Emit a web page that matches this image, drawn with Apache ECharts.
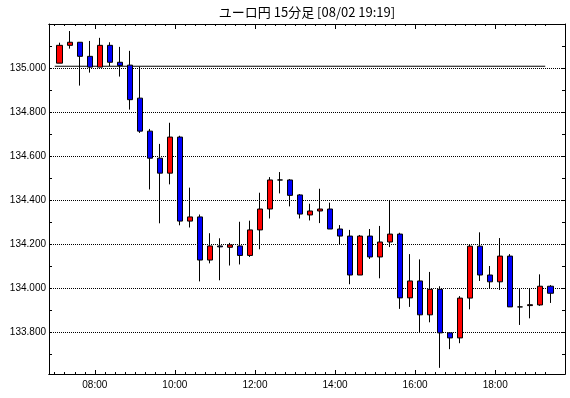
<!DOCTYPE html>
<html><head><meta charset="utf-8">
<script src="https://cdn.jsdelivr.net/npm/echarts@6/dist/echarts.min.js"></script>
<style>html,body{margin:0;padding:0;background:#fff}#c{width:570px;height:398px}</style>
</head><body><div id="c"></div>
<script>
const chartTitle = 'ユーロ円 15分足 [08/02 19:19]';
const times = ['07:00','07:15','07:30','07:45','08:00','08:15','08:30','08:45','09:00','09:15','09:30','09:45',
  '10:00','10:15','10:30','10:45','11:00','11:15','11:30','11:45','12:00','12:15','12:30','12:45',
  '13:00','13:15','13:30','13:45','14:00','14:15','14:30','14:45','15:00','15:15','15:30','15:45',
  '16:00','16:15','16:30','16:45','17:00','17:15','17:30','17:45','18:00','18:15','18:30','18:45','19:00','19:15'];
const opens = [135.023,135.104,135.118,135.054,135.005,135.104,135.027,135.014,134.864,134.714,134.591,134.523,
  134.687,134.305,134.324,134.128,134.192,134.186,134.192,134.149,134.265,134.360,134.492,134.492,
  134.424,134.333,134.351,134.360,134.269,134.237,134.060,134.237,134.142,134.210,134.246,133.956,
  134.033,133.879,133.995,133.797,133.774,133.955,134.191,134.060,134.029,134.146,133.915,133.921,133.924,134.009];
const closes = [135.104,135.118,135.054,135.005,135.104,135.027,135.012,134.857,134.714,134.591,134.523,134.687,
  134.305,134.324,134.128,134.192,134.188,134.197,134.149,134.265,134.360,134.492,134.492,134.422,
  134.337,134.351,134.360,134.269,134.237,134.060,134.237,134.142,134.210,134.246,133.956,134.033,
  133.879,133.995,133.797,133.774,133.955,134.191,134.060,134.029,134.146,133.915,133.915,133.925,134.009,133.977];
const lows = [135.023,135.089,134.921,134.980,135.005,135.010,134.962,134.812,134.706,134.449,134.295,134.472,
  134.286,134.276,134.031,134.113,134.036,134.103,134.108,134.142,134.177,134.317,134.431,134.372,
  134.317,134.308,134.296,134.269,134.200,134.018,134.060,134.133,134.045,134.187,133.906,133.915,
  133.797,133.845,133.638,133.723,133.750,133.904,134.033,134.000,133.992,133.915,133.833,133.863,133.920,133.933];
const highs = [135.116,135.169,135.118,135.124,135.138,135.118,135.097,135.079,135.007,134.724,134.656,134.752,
  134.693,134.457,134.335,134.250,134.227,134.206,134.302,134.307,134.434,134.505,134.528,134.496,
  134.428,134.384,134.452,134.389,134.287,134.265,134.242,134.269,134.283,134.401,134.252,134.155,
  134.131,134.074,134.009,133.797,133.964,134.200,134.254,134.101,134.228,134.155,134.000,134.000,134.063,134.014];
const refLevel = 135.009;
const refSpan = ['07:00', '19:15'];
const xLabelTimes = ['08:00','10:00','12:00','14:00','16:00','18:00'];
const xMinorTimes = times;
const yLabelValues = [133.8, 134.0, 134.2, 134.4, 134.6, 134.8, 135.0];
const yTickValues = [133.7, 133.8, 133.9, 134.0, 134.1, 134.2, 134.3, 134.4, 134.5, 134.6, 134.7, 134.8, 134.9, 135.0, 135.1, 135.2];

const toMin = t => { const p = t.split(':'); return (+p[0]) * 60 + (+p[1]); };
const fmtTime = v => { const h = Math.floor(v / 60), m = Math.round(v % 60); return (h < 10 ? '0' : '') + h + ':' + (m < 10 ? '0' : '') + m; };
const halfSlot = 7.5;
const X_MIN = 411.4, X_MAX = 1184.6, Y_MIN = 133.61, Y_MAX = 135.201;
const font = 'Liberation Sans, Arial, sans-serif';

const candles = times.map((t, i) => [toMin(t) + halfSlot, opens[i], closes[i], lows[i], highs[i]]);
const majorX = xLabelTimes.map(toMin);
const minorX = xMinorTimes.map(toMin);

function xAxisDef(pos, len, values, labels) {
  return {
    type: 'value', position: pos, min: X_MIN, max: X_MAX,
    axisLine: { show: true, onZero: false, lineStyle: { color: '#000', width: 1 } },
    axisTick: { show: true, inside: true, length: len, customValues: values, lineStyle: { color: '#000', width: 1 } },
    axisLabel: labels ? { show: true, customValues: values, formatter: fmtTime, color: '#000', fontSize: 10, fontFamily: font, margin: 6 } : { show: false },
    splitLine: { show: false }
  };
}
function yAxisDef(pos, show, labels) {
  return {
    type: 'value', position: pos, min: Y_MIN, max: Y_MAX,
    axisLine: { show: show, onZero: false, lineStyle: { color: '#000', width: 1 } },
    axisTick: { show: show, inside: true, length: 3, customValues: yTickValues, lineStyle: { color: '#000', width: 1 } },
    axisLabel: labels ? { show: true, customValues: yLabelValues, formatter: v => v.toFixed(3), color: '#000', fontSize: 10, fontFamily: font, margin: 3, padding: [5, 0, 0, 0] } : { show: false },
    splitLine: { show: false }
  };
}
const gridAxis = {
  type: 'value', position: 'left', min: Y_MIN, max: Y_MAX,
  axisLine: { show: false }, axisLabel: { show: false },
  axisTick: { show: false, customValues: yLabelValues },
  splitLine: { show: true, lineStyle: { color: '#000', width: 1, type: [1, 1] } }
};

const chart = echarts.init(document.getElementById('c'), null, { renderer: 'canvas' });
chart.setOption({
  animation: false,
  backgroundColor: '#fff',
  title: { text: chartTitle, left: 307, top: 6, padding: 0, textAlign: 'center',
    textStyle: { fontSize: 13, fontWeight: 'normal', color: '#000', fontFamily: 'Noto Sans CJK JP' } },
  grid: { left: 49, right: 5, top: 24, bottom: 24, containLabel: false },
  xAxis: [
    xAxisDef('bottom', 4, majorX, true),
    xAxisDef('bottom', 2, minorX, false),
    xAxisDef('top', 5, majorX, false),
    xAxisDef('top', 2, minorX, false)
  ],
  yAxis: [
    yAxisDef('left', true, true),
    yAxisDef('right', true, false),
    gridAxis
  ],
  series: [
    {
      type: 'line', xAxisIndex: 0, yAxisIndex: 0, z: 1, silent: true,
      data: refSpan.map(t => [toMin(t), refLevel]),
      showSymbol: false, symbol: 'none',
      lineStyle: { color: '#000', width: 1 }
    },
    {
      type: 'candlestick', xAxisIndex: 0, yAxisIndex: 0, z: 3,
      barWidth: 6,
      data: candles,
      itemStyle: { color: '#ff0000', color0: '#0000ff', borderColor: '#000', borderColor0: '#000', borderColorDoji: '#000', borderWidth: 1 }
    }
  ]
});
</script></body></html>
